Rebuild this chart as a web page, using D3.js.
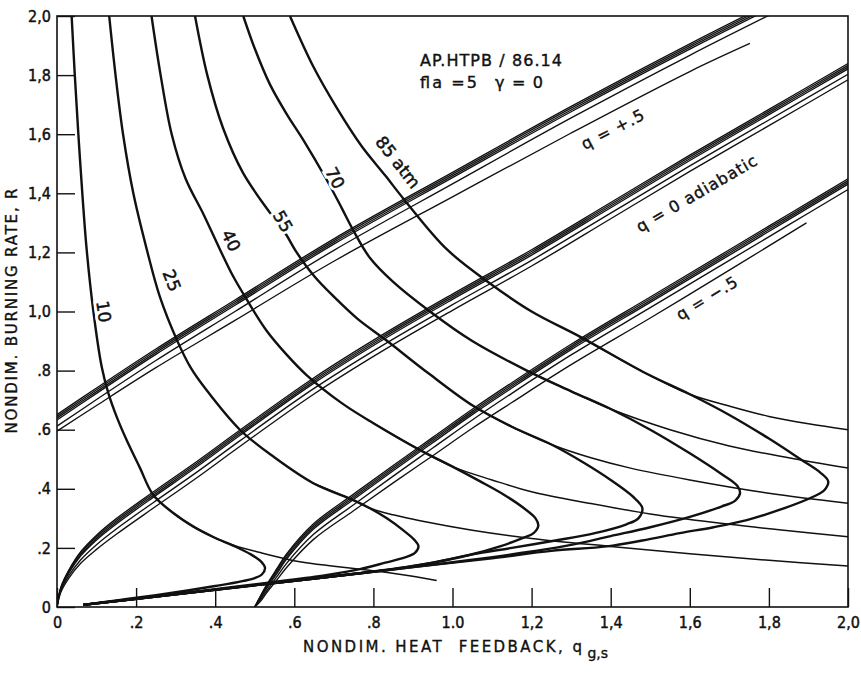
<!DOCTYPE html>
<html>
<head>
<meta charset="utf-8">
<script src="https://cdn.jsdelivr.net/npm/d3@7"></script>
<style>
  html, body { margin: 0; padding: 0; background: #fff; }
  svg { display: block; }
  text { font-family: "DejaVu Sans", sans-serif; fill: #111; }
</style>
</head>
<body>
<svg id="chart" width="861" height="674"></svg>
<script>
// //////// DATA (data units)

const xTicks = [0, 0.2, 0.4, 0.6, 0.8, 1.0, 1.2, 1.4, 1.6, 1.8, 2.0];
const xTickText = ["0", ".2", ".4", ".6", ".8", "1.0", "1,2", "1,4", "1,6", "1,8", "2,0"];
const yTicks = [0, 0.2, 0.4, 0.6, 0.8, 1.0, 1.2, 1.4, 1.6, 1.8, 2.0];
const yTickText = ["0", ".2", ".4", ".6", ".8", "1,0", "1,2", "1,4", "1,6", "1,8", "2,0"];

// q = +.5 bundle
const qPlusX = [0, 0.1, 0.25, 0.45, 0.7, 1.0, 1.3, 1.6, 1.8];
const qPlus1 = [0.651, 0.741, 0.873, 1.039, 1.246, 1.471, 1.694, 1.906, 2.041];
const qPlus2 = [0.645, 0.735, 0.867, 1.033, 1.240, 1.465, 1.688, 1.900, 2.035];
const qPlus3 = [0.639, 0.729, 0.861, 1.027, 1.234, 1.459, 1.682, 1.894, 2.029];
const qPlus4 = [0.633, 0.723, 0.855, 1.021, 1.228, 1.453, 1.676, 1.888, 2.023];
const qPlus5 = [0.612, 0.702, 0.834, 1.0, 1.207, 1.432, 1.655, 1.867, 2.002];
const qPlusShortX = [0, 0.1, 0.25, 0.45, 0.7, 1.0, 1.3, 1.6, 1.752];
const qPlusShort = [0.595, 0.682, 0.81, 0.97, 1.17, 1.388, 1.604, 1.812, 1.907];

// q = 0 adiabatic bundle
const qZeroX = [0, 0.01, 0.03, 0.06, 0.1, 0.15, 0.243, 0.35, 0.463, 0.648, 0.82, 1.0, 1.2, 1.4, 1.6, 1.8, 2.0];
const qZero1 = [0, 0.068, 0.125, 0.187, 0.243, 0.299, 0.389, 0.489, 0.599, 0.774, 0.919, 1.059, 1.209, 1.369, 1.529, 1.684, 1.839];
const qZero2 = [0, 0.066, 0.122, 0.183, 0.238, 0.293, 0.383, 0.483, 0.593, 0.768, 0.913, 1.053, 1.203, 1.363, 1.523, 1.678, 1.833];
const qZero3 = [0, 0.064, 0.118, 0.177, 0.232, 0.287, 0.377, 0.477, 0.587, 0.762, 0.907, 1.047, 1.197, 1.357, 1.517, 1.672, 1.827];
const qZero4 = [0, 0.062, 0.115, 0.173, 0.227, 0.281, 0.371, 0.471, 0.581, 0.756, 0.901, 1.041, 1.191, 1.351, 1.511, 1.666, 1.821];
const qZero5 = [0, 0.056, 0.106, 0.16, 0.211, 0.264, 0.353, 0.453, 0.563, 0.738, 0.883, 1.023, 1.173, 1.333, 1.493, 1.648, 1.803];
const qZero6 = [0, 0.051, 0.098, 0.148, 0.195, 0.246, 0.334, 0.434, 0.544, 0.719, 0.864, 1.004, 1.154, 1.314, 1.474, 1.629, 1.784];

// q = -.5 bundle
const qMinusX = [0.5, 0.515, 0.53, 0.555, 0.58, 0.648, 0.749, 0.85, 0.95, 1.05, 1.15, 1.3, 1.5, 1.7, 1.85, 2.0];
const qMinus1 = [0, 0.039, 0.075, 0.128, 0.179, 0.281, 0.381, 0.479, 0.574, 0.669, 0.759, 0.889, 1.049, 1.209, 1.329, 1.449];
const qMinus2 = [0, 0.037, 0.072, 0.124, 0.174, 0.275, 0.375, 0.473, 0.568, 0.663, 0.753, 0.883, 1.043, 1.203, 1.323, 1.443];
const qMinus3 = [0, 0.034, 0.067, 0.117, 0.167, 0.269, 0.369, 0.467, 0.562, 0.657, 0.747, 0.877, 1.037, 1.197, 1.317, 1.437];
const qMinus4 = [0, 0.031, 0.063, 0.111, 0.161, 0.263, 0.363, 0.461, 0.556, 0.651, 0.741, 0.871, 1.031, 1.191, 1.311, 1.431];
const qMinus5 = [0, 0.026, 0.055, 0.101, 0.147, 0.245, 0.345, 0.443, 0.538, 0.633, 0.723, 0.853, 1.013, 1.173, 1.293, 1.413];
const qMinusShortX = [0.5, 0.515, 0.53, 0.555, 0.58, 0.648, 0.749, 0.85, 0.95, 1.05, 1.15, 1.3, 1.5, 1.7, 1.895];
const qMinusShort = [0, 0.02, 0.048, 0.09, 0.133, 0.228, 0.325, 0.42, 0.512, 0.605, 0.692, 0.82, 0.978, 1.14, 1.3];

// isobars: upper branch, nose branch (back to the bottom), thin branch to the right
const iso10Upper = [[0.037, 2.0], [0.045, 1.8], [0.054, 1.6], [0.064, 1.4], [0.075, 1.21], [0.092, 1.0], [0.113, 0.813], [0.13, 0.723], [0.152, 0.64], [0.176, 0.565], [0.21, 0.47], [0.243, 0.38], [0.294, 0.318], [0.345, 0.272], [0.395, 0.237]];
const iso10Nose = [[0.395, 0.237], [0.45, 0.205], [0.49, 0.178], [0.515, 0.155], [0.526, 0.132], [0.518, 0.11], [0.5, 0.098], [0.46, 0.085], [0.4, 0.071], [0.33, 0.056], [0.25, 0.04], [0.16, 0.024], [0.066, 0.007]];
const iso10Thin = [[0.395, 0.237], [0.45, 0.207], [0.52, 0.182], [0.614, 0.153], [0.7, 0.138], [0.783, 0.125], [0.87, 0.11], [0.96, 0.09]];

const iso25Upper = [[0.132, 2.0], [0.148, 1.8], [0.167, 1.6], [0.193, 1.4], [0.227, 1.21], [0.26, 1.05], [0.303, 0.904], [0.338, 0.81], [0.378, 0.734], [0.463, 0.599], [0.547, 0.509], [0.648, 0.419], [0.752, 0.36], [0.79, 0.335]];
const iso25Nose = [[0.79, 0.335], [0.834, 0.3], [0.875, 0.26], [0.903, 0.228], [0.914, 0.205], [0.905, 0.183], [0.88, 0.168], [0.83, 0.15], [0.766, 0.128], [0.68, 0.108], [0.55, 0.085], [0.4, 0.06], [0.25, 0.036], [0.066, 0.007]];
const iso25Thin = [[0.79, 0.335], [0.85, 0.312], [0.918, 0.292], [1.05, 0.26], [1.2, 0.232], [1.4, 0.205], [1.6, 0.18], [1.8, 0.158], [2.0, 0.139]];

const iso40Upper = [[0.239, 2.0], [0.262, 1.8], [0.29, 1.6], [0.325, 1.45], [0.37, 1.33], [0.412, 1.21], [0.445, 1.12], [0.48, 1.04], [0.53, 0.935], [0.58, 0.855], [0.631, 0.785], [0.72, 0.69], [0.8, 0.622], [0.918, 0.531], [1.0, 0.475]];
const iso40Nose = [[1.0, 0.475], [1.07, 0.425], [1.13, 0.38], [1.18, 0.335], [1.21, 0.3], [1.217, 0.275], [1.205, 0.25], [1.18, 0.235], [1.12, 0.205], [1.04, 0.175], [0.95, 0.15], [0.85, 0.128], [0.7, 0.104], [0.55, 0.081], [0.4, 0.058], [0.25, 0.035], [0.066, 0.007]];
const iso40Thin = [[1.0, 0.475], [1.1, 0.43], [1.2, 0.39], [1.35, 0.35], [1.5, 0.315], [1.7, 0.28], [1.85, 0.258], [2.0, 0.238]];

const iso55Upper = [[0.349, 2.0], [0.38, 1.8], [0.42, 1.62], [0.47, 1.47], [0.539, 1.333], [0.575, 1.27], [0.606, 1.2], [0.65, 1.12], [0.7, 1.05], [0.76, 0.975], [0.83, 0.905], [0.94, 0.79], [1.053, 0.68], [1.15, 0.61], [1.25, 0.55]];
const iso55Nose = [[1.25, 0.55], [1.33, 0.49], [1.4, 0.43], [1.455, 0.375], [1.48, 0.335], [1.47, 0.3], [1.44, 0.28], [1.36, 0.25], [1.26, 0.225], [1.15, 0.2], [1.05, 0.178], [0.95, 0.15], [0.8, 0.12], [0.6, 0.089], [0.4, 0.058], [0.2, 0.028], [0.066, 0.007]];
const iso55Thin = [[1.25, 0.55], [1.35, 0.505], [1.45, 0.47], [1.6, 0.43], [1.8, 0.385], [2.0, 0.351]];

const iso70Upper = [[0.471, 2.0], [0.5, 1.89], [0.539, 1.767], [0.58, 1.67], [0.623, 1.58], [0.68, 1.45], [0.72, 1.35], [0.749, 1.275], [0.792, 1.18], [0.85, 1.1], [0.943, 1.0], [1.05, 0.9], [1.188, 0.8], [1.3, 0.73], [1.4, 0.67]];
const iso70Nose = [[1.4, 0.67], [1.5, 0.6], [1.6, 0.52], [1.68, 0.45], [1.72, 0.41], [1.727, 0.385], [1.715, 0.36], [1.68, 0.34], [1.6, 0.305], [1.5, 0.27], [1.4, 0.24], [1.3, 0.21], [1.2, 0.188], [1.05, 0.16], [0.9, 0.135], [0.7, 0.104], [0.5, 0.074], [0.3, 0.043], [0.066, 0.007]];
const iso70Thin = [[1.4, 0.67], [1.55, 0.6], [1.7, 0.545], [1.85, 0.505], [2.0, 0.47]];

const iso85Upper = [[0.589, 2.0], [0.648, 1.829], [0.707, 1.69], [0.77, 1.56], [0.83, 1.46], [0.88, 1.375], [0.986, 1.21], [1.095, 1.095], [1.2, 1.0], [1.322, 0.915], [1.49, 0.79], [1.6, 0.72]];
const iso85Nose = [[1.6, 0.72], [1.7, 0.65], [1.8, 0.57], [1.88, 0.5], [1.93, 0.455], [1.95, 0.425], [1.94, 0.395], [1.912, 0.373], [1.83, 0.33], [1.744, 0.294], [1.66, 0.27], [1.575, 0.25], [1.48, 0.225], [1.39, 0.205], [1.25, 0.19], [1.1, 0.165], [0.9, 0.135], [0.7, 0.104], [0.5, 0.074], [0.3, 0.043], [0.066, 0.007]];
const iso85Thin = [[1.6, 0.72], [1.7, 0.68], [1.8, 0.645], [1.9, 0.62], [2.0, 0.6]];

// curve labels (anchor in data units)
const isoLabelText = ["10", "25", "40", "55", "70", "85 atm"];
const isoLabelAt = [[0.118, 1.0], [0.29, 1.105], [0.44, 1.24], [0.571, 1.305], [0.703, 1.452], [0.862, 1.505]];
const qLabelText = ["q = +.5", "q = 0 adiabatic", "q = −.5"];
const qLabelAt = [[1.406, 1.617], [1.618, 1.40], [1.644, 1.046]];

// //////// LAYOUT

const W = 861, H = 674;
const margin = { top: 16, right: 13, bottom: 67, left: 57 };
const x = d3.scaleLinear().domain([0, 2]).range([margin.left, W - margin.right]);
const y = d3.scaleLinear().domain([0, 2]).range([H - margin.bottom, margin.top]);

const svg = d3.select("#chart");
const ink = "#111";

svg.append("defs").append("clipPath").attr("id", "plot")
  .append("rect")
  .attr("x", x(0)).attr("y", y(2))
  .attr("width", x(2) - x(0)).attr("height", y(0) - y(2));

// Axes (inward ticks)
const xAxis = d3.axisBottom(x).tickValues(xTicks)
  .tickFormat((d, i) => xTickText[i]).tickSizeInner(-19).tickSizeOuter(0).tickPadding(10);
const yAxis = d3.axisLeft(y).tickValues(yTicks)
  .tickFormat((d, i) => yTickText[i]).tickSizeInner(-18).tickSizeOuter(0).tickPadding(6);

const gx = svg.append("g").attr("transform", `translate(0,${y(0)})`).call(xAxis);
const gy = svg.append("g").attr("transform", `translate(${x(0)},0)`).call(yAxis);
[gx, gy].forEach((g) => {
  g.select(".domain").remove();
  g.selectAll(".tick line").attr("stroke", ink).attr("stroke-width", 1.4);
  g.selectAll(".tick text").attr("fill", ink).attr("font-size", 16)
    .attr("font-family", '"DejaVu Sans Condensed", "DejaVu Sans", sans-serif')
    .attr("font-stretch", "condensed")
    .attr("stroke", ink).attr("stroke-width", 0.45);
});

// frame
svg.append("rect")
  .attr("x", x(0)).attr("y", y(2))
  .attr("width", x(2) - x(0)).attr("height", y(0) - y(2))
  .attr("fill", "none").attr("stroke", ink).attr("stroke-width", 1.6);

// //////// CURVES

const line = d3.line()
  .x((d) => x(d[0]))
  .y((d) => y(d[1]))
  .curve(d3.curveCatmullRom.alpha(0.5));

const zip = (xs, rs) => xs.map((v, i) => [v, rs[i]]);

const bundles = [
  zip(qPlusX, qPlus1), zip(qPlusX, qPlus2), zip(qPlusX, qPlus3), zip(qPlusX, qPlus4),
  zip(qPlusX, qPlus5), zip(qPlusShortX, qPlusShort),
  zip(qZeroX, qZero1), zip(qZeroX, qZero2), zip(qZeroX, qZero3), zip(qZeroX, qZero4),
  zip(qZeroX, qZero5), zip(qZeroX, qZero6),
  zip(qMinusX, qMinus1), zip(qMinusX, qMinus2), zip(qMinusX, qMinus3), zip(qMinusX, qMinus4),
  zip(qMinusX, qMinus5), zip(qMinusShortX, qMinusShort),
];

const isoParts = [
  [iso10Upper, iso10Nose, iso10Thin],
  [iso25Upper, iso25Nose, iso25Thin],
  [iso40Upper, iso40Nose, iso40Thin],
  [iso55Upper, iso55Nose, iso55Thin],
  [iso70Upper, iso70Nose, iso70Thin],
  [iso85Upper, iso85Nose, iso85Thin],
];

const plot = svg.append("g").attr("clip-path", "url(#plot)");

plot.append("g").selectAll("path")
  .data(bundles)
  .join("path")
  .attr("d", line)
  .attr("fill", "none")
  .attr("stroke", ink)
  .attr("stroke-width", 1.35);

// thin continuation of every isobar
plot.append("g").selectAll("path")
  .data(isoParts.map(([up, , thin]) => up.slice(-3, -1).concat(thin)))
  .join("path")
  .attr("d", line)
  .attr("fill", "none")
  .attr("stroke", ink)
  .attr("stroke-width", 1.5);

// thick isobar with its nose
plot.append("g").selectAll("path")
  .data(isoParts.map(([up, nose]) => up.concat(nose.slice(1))))
  .join("path")
  .attr("d", line)
  .attr("fill", "none")
  .attr("stroke", ink)
  .attr("stroke-width", 2.4)
  .attr("stroke-linejoin", "round");

// //////// LABELS

// angle of a label follows the local direction of its curve on screen
function screenAngle(pts, at) {
  let best = 0;
  let bestD = Infinity;
  pts.forEach((p, i) => {
    const d = Math.hypot(x(p[0]) - x(at[0]), y(p[1]) - y(at[1]));
    if (d < bestD && i < pts.length - 1) { bestD = d; best = i; }
  });
  const a = pts[best], b = pts[best + 1];
  return (Math.atan2(y(b[1]) - y(a[1]), x(b[0]) - x(a[0])) * 180) / Math.PI;
}

function isoLabelTransform(d, i) {
  const at = isoLabelAt[i];
  const ang = screenAngle(isoParts[i][0], at);
  return `translate(${x(at[0])},${y(at[1])}) rotate(${ang})`;
}

const isoLabels = svg.append("g")
  .attr("font-size", 17)
  .attr("text-anchor", "middle");

// white halo breaks the curve under the label
isoLabels.append("g").selectAll("text")
  .data(isoLabelText)
  .join("text")
  .attr("transform", isoLabelTransform)
  .attr("dy", "0.35em")
  .attr("fill", "#fff")
  .attr("stroke", "#fff")
  .attr("stroke-width", 6)
  .text((d) => d);

isoLabels.append("g").selectAll("text")
  .data(isoLabelText)
  .join("text")
  .attr("transform", isoLabelTransform)
  .attr("dy", "0.35em")
  .attr("stroke", ink)
  .attr("stroke-width", 0.5)
  .text((d) => d);

const qBase = [zip(qPlusShortX, qPlusShort), zip(qZeroX, qZero6), zip(qMinusShortX, qMinusShort)];

svg.append("g").selectAll("text")
  .data(qLabelText)
  .join("text")
  .attr("transform", (d, i) => {
    const at = qLabelAt[i];
    const ang = screenAngle(qBase[i], at);
    return `translate(${x(at[0])},${y(at[1])}) rotate(${ang})`;
  })
  .attr("text-anchor", "middle")
  .attr("dy", "0.35em")
  .attr("font-size", 16)
  .attr("letter-spacing", 1)
  .attr("stroke", ink)
  .attr("stroke-width", 0.4)
  .attr("xml:space", "preserve")
  .text((d) => d);

// header note
const note = svg.append("g").attr("font-size", 16).attr("stroke", ink).attr("stroke-width", 0.4);
note.append("text").attr("x", 420).attr("y", 66)
  .attr("textLength", 142).attr("lengthAdjust", "spacing").text("AP.HTPB / 86.14");
note.append("text").attr("x", 420).attr("y", 88)
  .attr("textLength", 57).attr("lengthAdjust", "spacing").text("fla =5");
note.append("text").attr("x", 495).attr("y", 88)
  .attr("textLength", 48).attr("lengthAdjust", "spacing").text("γ = 0");

// axis titles
const titles = svg.append("g").attr("font-size", 15).attr("stroke", ink).attr("stroke-width", 0.35);

const xt = titles.append("text").attr("x", 303).attr("y", 652);
xt.append("tspan")
  .attr("textLength", 279).attr("lengthAdjust", "spacing")
  .attr("xml:space", "preserve")
  .text("NONDIM. HEAT  FEEDBACK, q");
xt.append("tspan").attr("dx", 3).attr("dy", 6).attr("font-size", 14).text("g,s");

titles.append("text")
  .attr("transform", `translate(17,311) rotate(-90)`)
  .attr("text-anchor", "middle")
  .attr("textLength", 245).attr("lengthAdjust", "spacing")
  .text("NONDIM. BURNING RATE, R");
</script>
</body>
</html>
